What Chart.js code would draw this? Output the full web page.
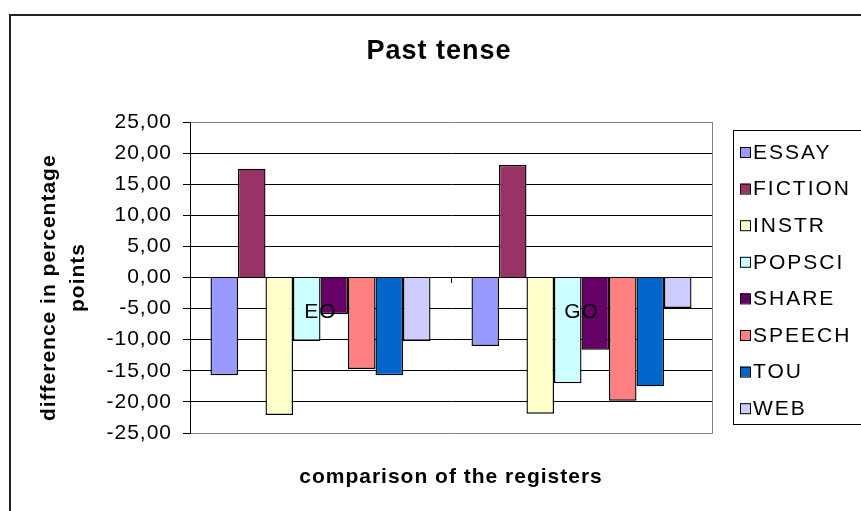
<!DOCTYPE html>
<html lang="en">
<head>
    <meta charset="UTF-8">
    <title>Past tense</title>
    <script src="https://cdn.jsdelivr.net/npm/chart.js"></script>
    <style>
        body { margin: 0; background: #fff; }
    </style>
</head>
<body>
    <canvas id="myChart" width="861" height="511"></canvas>

    <script>
        // data
        const comparisons = ['EO', 'GO'];
        const registers = ['ESSAY', 'FICTION', 'INSTR', 'POPSCI', 'SHARE', 'SPEECH', 'TOU', 'WEB'];
        const eoValues = [-15.7, 17.5, -22.1, -10.2, -5.9, -14.7, -15.7, -10.2];
        const goValues = [-11.0, 18.1, -21.9, -17.0, -11.6, -19.8, -17.5, -4.9];
        const registerColors = ['#9999FF', '#993366', '#FFFFCC', '#CCFFFF', '#660066', '#FF8080', '#0066CC', '#CCCCFF'];
        const yMin = -25, yMax = 25, yStep = 5;

        const font = 'Liberation Sans, Arial, sans-serif';
        const spacing = '1px';

        const datasets = registers.map((name, i) => ({
            label: name,
            data: [eoValues[i], goValues[i]],
            backgroundColor: registerColors[i],
            borderColor: '#000',
            borderWidth: 1.4,
            categoryPercentage: 0.843,
            barPercentage: 1.0
        }));

        // slightly wider letter spacing like the original export
        const spacingPlugin = {
            id: 'spacing',
            beforeLayout(chart) { chart.ctx.letterSpacing = spacing; },
            beforeDraw(chart) { chart.ctx.letterSpacing = spacing; }
        };

        // outer frame + legend box on the right
        const framePlugin = {
            id: 'frame',
            afterDraw(chart) {
                const ctx = chart.ctx;
                ctx.save();
                ctx.strokeStyle = '#222';
                ctx.lineWidth = 2;
                ctx.beginPath();
                ctx.moveTo(10, 520);
                ctx.lineTo(10, 15);
                ctx.lineTo(870, 15);
                ctx.stroke();

                ctx.lineWidth = 1;
                ctx.strokeStyle = '#000';
                ctx.strokeRect(733.5, 130.5, 140, 294);

                ctx.font = '21px ' + font;
                ctx.letterSpacing = '2px';
                ctx.textBaseline = 'middle';
                ctx.textAlign = 'left';
                chart.data.datasets.forEach((ds, i) => {
                    const y = 152 + i * 36.6;
                    ctx.fillStyle = ds.backgroundColor;
                    ctx.fillRect(740, y - 5, 10, 10);
                    ctx.strokeStyle = '#000';
                    ctx.strokeRect(740.5, y - 4.5, 10, 10);
                    ctx.fillStyle = '#000';
                    ctx.fillText(ds.label, 753, y + 1);
                });
                ctx.restore();
            }
        };

        const ctx = document.getElementById('myChart').getContext('2d');
        const myChart = new Chart(ctx, {
            type: 'bar',
            data: {
                labels: comparisons,
                datasets: datasets
            },
            options: {
                responsive: false,
                animation: false,
                layout: { padding: { left: 17, right: 0, top: 0, bottom: 0 } },
                plugins: {
                    legend: { display: false },
                    tooltip: { enabled: false },
                    title: {
                        display: true,
                        text: 'Past tense',
                        color: '#000',
                        font: { family: font, size: 27, weight: 'bold', lineHeight: 1.2 },
                        padding: { top: 35, bottom: 54.6 }
                    },
                    subtitle: {
                        display: true,
                        position: 'bottom',
                        fullSize: false,
                        text: 'comparison of the registers',
                        color: '#000',
                        font: { family: font, size: 21, weight: 'bold', lineHeight: 1.2 },
                        padding: { top: 31.4, bottom: 21.4 }
                    }
                },
                scales: {
                    x: {
                        position: { y: 0 },
                        grid: {
                            display: true,
                            drawOnChartArea: false,
                            drawTicks: true,
                            tickLength: 5,
                            color: '#000'
                        },
                        border: { display: true, color: '#000', width: 1 },
                        ticks: {
                            z: 1,
                            padding: 17.4,
                            color: '#000',
                            font: { family: font, size: 21 }
                        }
                    },
                    y: {
                        min: yMin,
                        max: yMax,
                        afterFit(scale) { scale.width = 173; },
                        ticks: {
                            stepSize: yStep,
                            padding: 11,
                            color: '#000',
                            font: { family: font, size: 21 },
                            callback: v => v.toFixed(2).replace('.', ',')
                        },
                        grid: {
                            color: c => (c.tick && Math.abs(c.tick.value) === yMax) ? '#808080' : '#000',
                            tickColor: '#000',
                            tickLength: 7,
                            lineWidth: 1
                        },
                        border: { display: true, color: '#000', width: 1 },
                        title: {
                            display: true,
                            text: ['difference in percentage   ', 'points'],
                            color: '#000',
                            font: { family: font, size: 21, weight: 'bold', lineHeight: 1.38 },
                            padding: { top: 17.5, bottom: 0 }
                        }
                    },
                    yRight: {
                        type: 'linear',
                        position: 'right',
                        afterFit(scale) { scale.width = 149; },
                        grid: { display: false },
                        ticks: { display: false },
                        border: { display: true, color: '#808080', width: 1 }
                    }
                }
            },
            plugins: [spacingPlugin, framePlugin]
        });
    </script>
</body>
</html>
